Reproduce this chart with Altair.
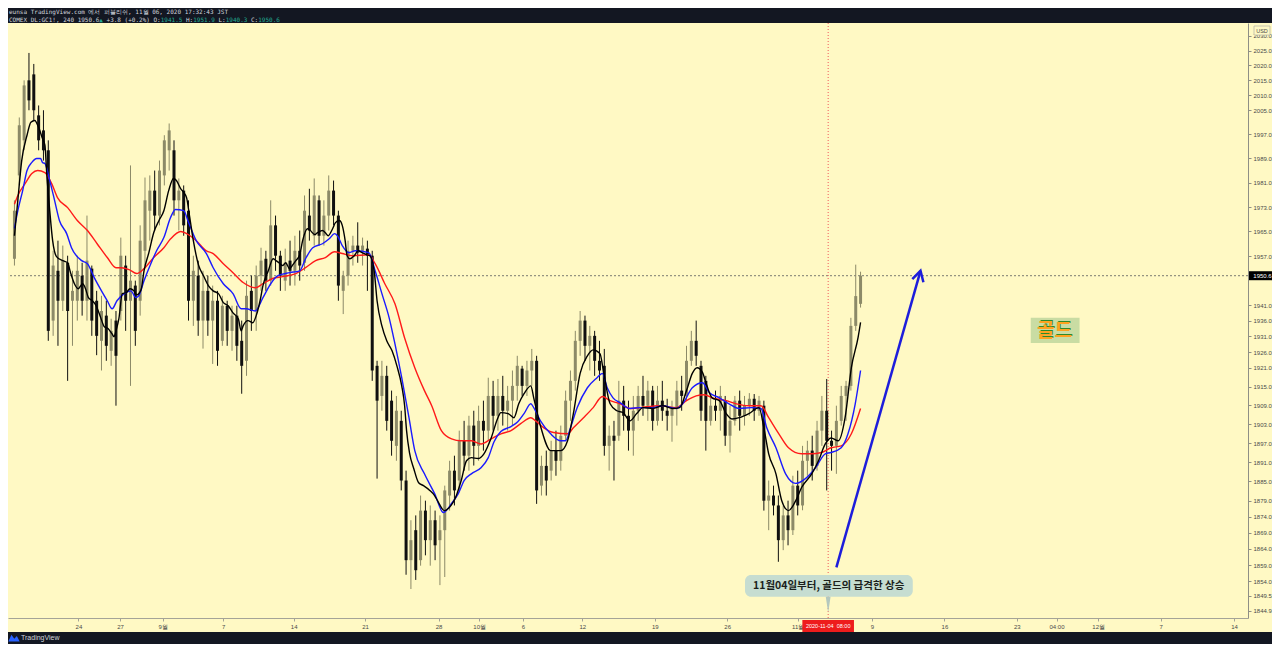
import json
import altair as alt
import pandas as pd

# ---------------- OHLC bars (8-hour steps) ----------------
open_ = [1956.1, 1983.4, 1995.0, 2015.0, 2017.0, 2003.3, 1998.3, 1991.7, 1936.1, 1952.2,
         1942.5, 1954.8, 1942.5, 1942.5, 1950.6, 1942.5, 1952.9, 1942.5, 1929.6, 1937.7,
         1926.4, 1936.1, 1939.2, 1953.9, 1942.5, 1947.4, 1942.5, 1958.7, 1971.8, 1978.4,
         1970.2, 1983.4, 1991.7, 1991.7, 1975.2, 1978.4, 1971.8, 1942.5, 1950.6, 1936.1,
         1945.7, 1936.1, 1942.5, 1929.6, 1940.9, 1932.8, 1937.7, 1929.6, 1923.2, 1945.7,
         1939.2, 1950.6, 1956.1, 1949.0, 1967.0, 1957.1, 1949.0, 1955.5, 1952.2, 1958.7,
         1954.8, 1970.2, 1963.6, 1975.2, 1963.6, 1970.2, 1978.4, 1970.2, 1945.7, 1950.6,
         1958.7, 1960.4, 1958.7, 1959.4, 1957.1, 1921.6, 1912.0, 1918.4, 1910.5, 1896.2,
         1904.1, 1885.3, 1860.5, 1869.8, 1860.5, 1875.9, 1866.7, 1872.9, 1866.7, 1869.8,
         1880.6, 1888.4, 1885.3, 1897.8, 1893.1, 1902.6, 1896.2, 1904.1, 1901.0, 1912.0,
         1905.7, 1912.0, 1907.3, 1910.5, 1915.2, 1920.7, 1915.2, 1920.1, 1923.2, 1883.7,
         1889.9, 1888.4, 1894.7, 1891.5, 1899.4, 1910.5, 1916.8, 1929.6, 1936.1, 1928.0,
         1931.2, 1923.2, 1921.6, 1896.2, 1899.4, 1899.4, 1910.5, 1905.7, 1901.0, 1907.3,
         1912.0, 1908.9, 1913.7, 1904.1, 1910.5, 1907.3, 1905.7, 1908.0, 1913.7, 1912.0,
         1923.2, 1929.6, 1921.6, 1916.8, 1904.1, 1908.9, 1907.3, 1910.5, 1899.4, 1904.1,
         1910.5, 1905.7, 1908.9, 1911.1, 1907.3, 1908.9, 1879.0, 1880.6, 1877.5, 1866.7,
         1874.4, 1869.8, 1883.7, 1877.5, 1891.5, 1894.7, 1889.9, 1901.0, 1907.3, 1897.8,
         1896.2, 1904.1, 1912.0, 1915.2, 1934.4, 1941.5]
high_ = [1975.2, 2002.6, 2015.0, 2024.2, 2020.5, 2006.6, 2005.0, 1995.0, 1958.7, 1962.0,
         1960.4, 1957.1, 1952.2, 1957.1, 1954.8, 1970.2, 1953.9, 1945.7, 1944.1, 1942.5,
         1936.7, 1939.2, 1963.0, 1957.1, 1986.7, 1949.0, 1967.0, 1982.7, 1983.4, 1985.0,
         1988.3, 1996.7, 2000.6, 1995.0, 1982.4, 1980.1, 1975.2, 1957.1, 1955.5, 1952.2,
         1950.6, 1947.4, 1945.7, 1944.1, 1942.5, 1940.9, 1940.9, 1936.1, 1949.0, 1950.6,
         1953.9, 1959.7, 1958.7, 1975.2, 1970.2, 1958.7, 1959.4, 1962.0, 1963.6, 1965.3,
         1976.8, 1979.0, 1982.4, 1976.8, 1975.2, 1983.4, 1981.7, 1971.8, 1952.2, 1962.0,
         1963.6, 1968.0, 1963.0, 1962.0, 1958.7, 1923.2, 1923.2, 1921.6, 1913.7, 1912.0,
         1907.3, 1888.4, 1872.9, 1874.4, 1880.6, 1879.0, 1877.5, 1875.9, 1874.4, 1883.7,
         1891.5, 1893.1, 1901.0, 1904.1, 1905.7, 1907.3, 1908.9, 1910.5, 1917.8, 1916.8,
         1917.4, 1918.4, 1915.2, 1920.1, 1924.8, 1921.6, 1923.2, 1927.0, 1924.8, 1893.1,
         1894.7, 1897.8, 1901.0, 1902.6, 1913.7, 1920.1, 1932.8, 1939.2, 1937.7, 1934.4,
         1932.8, 1929.6, 1927.0, 1902.6, 1904.1, 1916.8, 1915.2, 1910.5, 1912.0, 1915.2,
         1918.4, 1916.8, 1915.2, 1915.2, 1916.8, 1911.1, 1910.5, 1916.8, 1918.4, 1928.0,
         1932.8, 1936.1, 1923.2, 1918.4, 1912.0, 1913.7, 1915.2, 1912.0, 1908.9, 1912.0,
         1913.7, 1912.0, 1912.9, 1912.6, 1912.0, 1910.5, 1885.3, 1883.7, 1880.6, 1877.5,
         1879.0, 1886.8, 1888.4, 1896.2, 1897.8, 1899.4, 1904.1, 1912.0, 1917.4, 1901.0,
         1908.9, 1915.2, 1916.8, 1937.0, 1954.2, 1951.9]
low_ = [1953.9, 1980.1, 1991.7, 2005.0, 2001.6, 1991.7, 1988.3, 1929.6, 1931.2, 1928.0,
        1939.2, 1916.8, 1928.0, 1936.1, 1937.7, 1936.1, 1931.2, 1925.0, 1920.1, 1923.2,
        1921.6, 1908.9, 1936.1, 1932.8, 1915.2, 1928.0, 1937.7, 1953.9, 1962.0, 1965.3,
        1967.0, 1980.1, 1985.0, 1970.2, 1965.3, 1963.6, 1936.1, 1934.4, 1931.2, 1927.1,
        1931.2, 1922.2, 1921.6, 1928.0, 1928.0, 1926.4, 1923.2, 1912.7, 1918.4, 1932.8,
        1932.8, 1945.7, 1945.7, 1947.4, 1952.2, 1945.7, 1945.7, 1947.4, 1947.4, 1949.0,
        1952.2, 1962.0, 1960.4, 1960.4, 1960.4, 1965.3, 1967.0, 1942.5, 1938.2, 1947.4,
        1953.9, 1954.8, 1953.9, 1945.7, 1916.8, 1885.9, 1907.3, 1901.0, 1893.1, 1891.5,
        1882.2, 1856.0, 1851.6, 1854.4, 1858.8, 1862.0, 1858.8, 1860.5, 1852.8, 1855.3,
        1875.9, 1877.5, 1882.2, 1888.4, 1888.4, 1890.0, 1891.5, 1894.7, 1897.8, 1901.0,
        1901.0, 1902.6, 1901.0, 1902.6, 1910.5, 1912.0, 1912.0, 1915.2, 1878.0, 1880.6,
        1880.6, 1885.3, 1886.8, 1888.4, 1897.8, 1904.1, 1913.7, 1924.8, 1923.2, 1920.1,
        1918.4, 1916.8, 1893.1, 1888.4, 1885.3, 1897.8, 1901.0, 1894.7, 1893.1, 1904.1,
        1905.7, 1904.1, 1901.0, 1902.6, 1904.1, 1901.0, 1897.5, 1902.6, 1907.3, 1910.5,
        1921.6, 1921.6, 1904.1, 1894.7, 1902.6, 1904.1, 1901.0, 1896.2, 1894.1, 1902.6,
        1901.0, 1902.6, 1905.7, 1904.1, 1905.7, 1875.9, 1869.8, 1874.4, 1860.0, 1863.6,
        1865.1, 1868.3, 1874.4, 1876.0, 1886.8, 1885.3, 1888.4, 1896.2, 1882.2, 1888.4,
        1887.4, 1902.6, 1904.1, 1913.7, 1932.8, 1940.3]
close_ = [1971.8, 2000.0, 2013.3, 2008.3, 2005.0, 1995.0, 1991.7, 1932.8, 1953.9, 1942.5,
          1955.5, 1939.2, 1945.7, 1952.2, 1942.5, 1955.5, 1936.1, 1931.2, 1939.2, 1928.0,
          1932.8, 1924.8, 1957.1, 1942.5, 1949.0, 1932.8, 1962.0, 1975.2, 1978.4, 1970.2,
          1985.0, 1995.0, 1998.3, 1975.2, 1978.4, 1967.0, 1942.5, 1952.2, 1936.1, 1945.7,
          1936.1, 1942.5, 1926.4, 1940.9, 1932.8, 1937.7, 1928.0, 1921.6, 1944.1, 1939.2,
          1950.6, 1955.5, 1949.0, 1967.0, 1957.1, 1950.6, 1954.8, 1952.2, 1958.7, 1953.9,
          1971.8, 1965.3, 1976.8, 1963.6, 1970.2, 1978.4, 1970.2, 1947.4, 1950.6, 1958.7,
          1960.4, 1958.1, 1960.4, 1957.1, 1920.1, 1910.5, 1918.4, 1904.1, 1897.8, 1907.3,
          1885.3, 1860.5, 1866.7, 1857.4, 1875.9, 1866.7, 1872.9, 1865.1, 1869.8, 1882.2,
          1888.4, 1882.2, 1897.8, 1893.1, 1902.6, 1896.2, 1904.1, 1901.0, 1912.0, 1905.7,
          1912.0, 1907.3, 1910.5, 1915.2, 1921.6, 1915.2, 1920.1, 1923.2, 1882.2, 1889.9,
          1885.3, 1894.7, 1891.5, 1899.4, 1910.5, 1916.8, 1929.6, 1936.1, 1928.0, 1931.2,
          1923.2, 1920.1, 1896.2, 1899.4, 1897.8, 1910.5, 1905.7, 1901.0, 1907.3, 1912.0,
          1908.9, 1913.7, 1904.1, 1910.5, 1907.3, 1905.7, 1908.0, 1913.7, 1912.0, 1923.2,
          1929.6, 1924.8, 1907.3, 1904.1, 1908.9, 1907.3, 1912.0, 1899.4, 1904.1, 1910.5,
          1905.7, 1908.9, 1911.1, 1907.3, 1910.5, 1879.0, 1880.6, 1877.5, 1866.7, 1874.4,
          1869.8, 1883.7, 1877.5, 1891.5, 1894.7, 1889.9, 1901.0, 1907.3, 1897.8, 1896.2,
          1904.1, 1912.0, 1915.2, 1934.4, 1944.0, 1950.6]

# ---------------- moving averages (traced points: bar index, price) ----------------
fast_idx = [0, 0.7, 1.5, 2.6, 3.4, 4.2, 5.0, 5.8, 6.3, 6.7, 7.3, 7.9, 8.7, 10.0, 11.0, 11.6, 12.4, 13.2, 14.1, 14.7,
            15.3, 16.1, 16.9, 17.7, 18.6, 19.4, 20.2, 20.6, 21.0, 21.6, 22.3, 23.1, 23.9, 24.7, 25.3, 26.2, 26.8, 27.8, 28.8, 29.9,
            30.9, 31.9, 32.9, 33.5, 34.4, 35.0, 35.6, 36.2, 37.0, 38.1, 39.1, 40.1, 41.1, 42.2, 43.2, 44.2, 45.2, 46.3, 46.9, 47.3,
            48.3, 49.3, 50.0, 50.8, 51.4, 52.5, 53.5, 54.1, 54.7, 55.5, 56.1, 56.9, 57.6, 58.2, 59.0, 59.6, 60.6, 61.2, 62.1, 62.7,
            63.7, 64.3, 64.9, 65.8, 66.4, 67.2, 67.8, 68.4, 68.8, 69.4, 70.3, 71.1, 71.9, 72.9, 73.5, 74.4, 75.0, 76.0, 77.0, 78.1,
            79.1, 80.1, 80.7, 81.1, 81.7, 82.6, 83.6, 84.6, 85.9, 86.9, 87.5, 88.9, 89.9, 91.4, 92.4, 93.5, 94.5, 95.9, 97.1, 98.6,
            100.0, 100.6, 102.1, 103.3, 104.3, 105.4, 106.8, 107.4, 108.9, 110.9, 113.0, 114.4, 115.6, 117.0, 118.5, 119.7, 121.1, 121.8, 123.2, 124.6,
            125.9, 127.3, 128.7, 130.0, 132.0, 134.1, 136.1, 137.6, 139.0, 140.2, 141.2, 142.3, 143.1, 144.3, 145.8, 147.2, 148.4, 149.9, 151.9, 154.0,
            155.0, 156.0, 157.5, 158.7, 160.1, 161.6, 162.8, 164.9, 166.3, 167.7, 168.9, 170.4, 171.8, 173.1, 174.5, 175.0]
fast_val = [1963.6, 1975.2, 1988.3, 1996.7, 2001.0, 2001.6, 1999.3, 1995.6, 1993.4, 1983.4, 1971.8, 1962.0, 1956.8, 1955.5, 1954.8, 1951.6, 1948.0, 1946.4, 1948.0, 1946.4,
            1943.5, 1942.5, 1940.9, 1937.7, 1934.1, 1933.5, 1931.8, 1930.9, 1932.8, 1936.7, 1944.8, 1945.1, 1946.4, 1945.7, 1944.4, 1946.1, 1952.2, 1958.1, 1964.6, 1968.6,
            1971.8, 1978.4, 1982.4, 1981.7, 1979.0, 1977.8, 1976.1, 1970.2, 1962.0, 1953.9, 1950.6, 1947.4, 1945.7, 1944.8, 1941.9, 1940.9, 1938.6, 1936.7, 1932.8, 1934.4,
            1936.1, 1935.4, 1937.7, 1942.5, 1947.4, 1952.2, 1956.1, 1955.5, 1954.8, 1953.9, 1954.8, 1952.9, 1954.2, 1955.5, 1957.4, 1962.0, 1965.9, 1965.3, 1964.0, 1964.6,
            1965.3, 1964.6, 1963.6, 1965.9, 1967.9, 1968.6, 1967.0, 1962.0, 1957.1, 1956.1, 1957.1, 1958.7, 1958.1, 1957.4, 1957.1, 1952.2, 1942.5, 1934.4, 1929.6, 1926.4,
            1921.6, 1915.2, 1908.9, 1901.0, 1894.1, 1889.0, 1884.6, 1883.7, 1882.2, 1880.6, 1879.0, 1875.9, 1876.8, 1880.6, 1885.3, 1891.5, 1892.5, 1892.2, 1893.7, 1898.7,
            1905.1, 1906.7, 1906.4, 1905.1, 1909.5, 1912.7, 1915.2, 1911.4, 1901.9, 1894.7, 1894.7, 1897.8, 1906.4, 1919.2, 1924.8, 1926.7, 1925.5, 1920.1, 1909.5, 1907.3,
            1906.7, 1904.1, 1906.4, 1908.3, 1908.0, 1908.9, 1908.0, 1908.3, 1913.7, 1919.2, 1921.0, 1919.5, 1915.8, 1911.4, 1910.5, 1906.4, 1904.7, 1905.1, 1906.4, 1908.3,
            1901.9, 1893.7, 1887.4, 1879.0, 1875.9, 1879.0, 1883.1, 1887.4, 1891.5, 1896.8, 1898.7, 1897.8, 1905.1, 1921.0, 1930.8, 1935.5]

mid_idx = [0, 0.7, 1.7, 2.6, 3.6, 4.6, 5.4, 5.8, 6.3, 7.3, 8.3, 9.3, 10.8, 11.8, 13.9, 15.1, 16.5, 18.0, 19.2, 20.2,
           21.2, 22.7, 24.1, 25.1, 25.7, 26.8, 28.2, 29.4, 30.9, 32.3, 33.3, 35.0, 36.0, 37.6, 39.7, 41.1, 43.2, 45.2, 46.9, 47.9,
           49.8, 51.4, 53.0, 54.5, 56.9, 59.0, 60.2, 61.7, 63.7, 65.1, 66.2, 66.8, 67.8, 69.2, 70.5, 73.3, 74.6, 76.0, 77.5, 78.7,
           80.1, 81.6, 82.8, 84.8, 86.9, 88.7, 90.4, 91.8, 93.0, 94.5, 96.5, 98.0, 99.2, 100.6, 102.7, 104.1, 105.4, 106.8, 107.4, 108.8,
           110.9, 113.0, 114.0, 115.0, 116.4, 118.5, 120.5, 121.6, 122.6, 123.8, 125.3, 127.3, 129.4, 132.0, 134.1, 136.9, 138.2, 140.2, 142.3, 143.7,
           145.8, 147.8, 149.9, 152.5, 154.4, 155.6, 157.5, 159.5, 161.6, 163.6, 165.7, 167.7, 168.9, 171.0, 172.4, 173.9, 175.0]
mid_val = [1966.0, 1971.8, 1978.4, 1985.0, 1987.7, 1989.0, 1989.0, 1987.7, 1987.3, 1981.7, 1975.2, 1968.6, 1964.3, 1959.7, 1955.5, 1954.5, 1950.0, 1945.7, 1942.5, 1939.9,
           1942.5, 1944.8, 1945.7, 1943.5, 1944.1, 1949.0, 1954.5, 1958.7, 1963.0, 1969.6, 1972.2, 1971.8, 1968.0, 1962.0, 1957.8, 1953.2, 1948.0, 1944.8, 1939.9, 1939.9,
           1939.2, 1943.5, 1948.0, 1950.6, 1951.6, 1952.2, 1956.1, 1959.7, 1961.0, 1962.6, 1964.3, 1963.6, 1960.4, 1958.1, 1958.7, 1958.1, 1952.2, 1944.8, 1937.0, 1928.6,
           1917.8, 1905.1, 1894.7, 1887.4, 1881.2, 1875.3, 1878.1, 1881.2, 1885.3, 1887.4, 1889.3, 1892.5, 1897.5, 1900.7, 1902.3, 1903.8, 1906.4, 1909.5, 1908.3, 1904.1,
           1900.0, 1897.8, 1897.8, 1901.9, 1908.3, 1914.6, 1917.8, 1919.2, 1914.6, 1911.4, 1909.8, 1908.0, 1908.3, 1908.3, 1908.9, 1908.0, 1909.5, 1914.6, 1916.2, 1913.1,
           1911.4, 1909.5, 1908.0, 1908.3, 1908.0, 1901.9, 1895.6, 1887.4, 1884.4, 1885.9, 1889.3, 1893.7, 1894.1, 1895.6, 1900.0, 1909.5, 1920.1]

slow_idx = [0, 0.7, 2.2, 3.6, 4.8, 6.3, 7.7, 8.9, 11.0, 13.0, 15.1, 17.1, 19.2, 21.0, 22.1, 23.7, 25.3, 26.8, 28.8, 30.9,
            32.3, 34.4, 35.6, 37.6, 39.7, 41.1, 43.2, 45.2, 47.3, 49.8, 51.4, 53.4, 55.5, 58.2, 60.2, 62.3, 64.3, 66.2, 67.8, 69.9,
            73.3, 74.6, 76.6, 78.7, 80.7, 82.8, 84.8, 86.3, 88.3, 90.4, 92.4, 94.5, 96.5, 98.6, 100.6, 102.7, 104.7, 106.8, 107.8, 109.5,
            111.5, 114.4, 115.6, 117.7, 119.7, 121.6, 123.2, 125.3, 127.3, 129.4, 133.5, 136.9, 139.0, 141.0, 142.7, 144.3, 147.2, 149.3, 151.9, 154.4,
            156.0, 158.1, 160.1, 162.8, 164.9, 166.9, 168.9, 171.0, 173.1, 175.0]
slow_val = [1973.9, 1976.8, 1980.7, 1984.0, 1985.0, 1984.3, 1980.7, 1976.1, 1972.8, 1968.6, 1965.3, 1961.0, 1956.5, 1953.2, 1953.2, 1952.6, 1951.3, 1952.9, 1956.5, 1959.7,
            1962.6, 1965.0, 1964.3, 1962.0, 1958.7, 1957.8, 1954.5, 1951.6, 1948.4, 1946.7, 1948.0, 1949.7, 1950.3, 1951.3, 1953.2, 1955.5, 1956.5, 1958.4, 1957.8, 1957.1,
            1957.4, 1954.5, 1948.0, 1941.5, 1930.5, 1921.0, 1913.7, 1908.9, 1901.0, 1898.4, 1897.8, 1897.8, 1896.8, 1898.4, 1900.0, 1901.0, 1903.2, 1905.1, 1904.1, 1901.9,
            1900.4, 1900.0, 1901.9, 1905.1, 1908.3, 1911.8, 1910.5, 1909.5, 1908.0, 1908.3, 1908.9, 1908.3, 1910.5, 1912.0, 1912.4, 1911.4, 1910.5, 1909.5, 1908.9, 1908.9,
            1905.1, 1900.0, 1895.6, 1893.7, 1893.7, 1894.1, 1895.6, 1896.2, 1900.0, 1908.0]

# ---------------- axes ----------------
x_tick_pos = [13.23, 21.85, 30.67, 43.19, 57.76, 72.53, 87.71, 96.12, 105.15, 117.46,
              132.44, 147.42, 161.99, 177.37, 192.35, 207.33, 215.53, 224.15, 237.07, 252.25]
x_tick_lab = ["24", "27", "9월", "7", "14", "21", "28", "10월", "6", "12",
              "19", "26", "11월", "9", "16", "23", "04:00", "12월", "7", "14"]
y_tick_vals = [2030.0, 2025.0, 2020.0, 2015.0, 2010.0, 2005.0, 1997.0, 1989.0, 1981.0, 1973.0,
               1965.0, 1957.0, 1941.0, 1936.0, 1931.0, 1926.0, 1921.0, 1915.0, 1909.0, 1903.0,
               1897.0, 1891.0, 1885.0, 1879.0, 1874.0, 1869.0, 1864.0, 1859.0, 1854.0, 1849.5, 1844.9]

# ---------------- annotations ----------------
last_price = 1950.6
cross_idx = 168.3
cross_label = "2020-11-04\u00a0\u00a008:00"
arrow_idx = [170.0, 187.4]
arrow_val = [1858.3, 1952.2]
head_idx = [185.7, 187.4, 188.0]
head_val = [1949.5, 1952.2, 1948.5]
note_text = "11월04일부터, 골드의 급격한 상승"
note_x = [151.1, 185.8]
note_y = [1849.2, 1855.9]
note_pos = [168.4, 1852.4]
pointer_pos = [168.3, 1846.8]
tag_text = "골드"
tag_x = [210.2, 220.3]
tag_y = [1928.9, 1937.0]
tag_pos = [215.1, 1932.6]

header1 = "eunsa TradingView.com 에서 퍼블리쉬, 11월 06, 2020 17:32:43 JST"
header2 = [(0, "COMEX_DL:GC1!, 240 1950.6", "#d1d4dc"), (25, "▲", "#22ab94"),
           (27, "+3.8 (+0.2%) O:", "#d1d4dc"), (42, "1941.5", "#22ab94"),
           (49, "H:", "#d1d4dc"), (51, "1951.9", "#22ab94"),
           (58, "L:", "#d1d4dc"), (60, "1940.3", "#22ab94"),
           (67, "C:", "#d1d4dc"), (69, "1950.6", "#22ab94")]

DARK = "#131722"
PAPER = "#fff9c4"
UP = "#8c8a68"
DOWN = "#101010"
W, H = 1240, 595

xs = alt.Scale(domain=[-0.3, 254.1], nice=False, zero=False)
ys = alt.Scale(type="log", domain=[1842.7, 2034.3], nice=False)

label_expr = (json.dumps(x_tick_lab, ensure_ascii=False) + "[indexof(" +
              json.dumps(x_tick_pos) + ", datum.value)]")
xaxis = alt.Axis(values=x_tick_pos, labelExpr=label_expr, title=None, grid=False,
                 domainColor="#a5a497", tickColor="#a5a497", tickSize=3, labelFontSize=6,
                 labelColor="#4a4a4a", labelFont="Liberation Sans", labelPadding=2,
                 labelOverlap=False, labelFlush=False, labelAngle=0)
yaxis = alt.Axis(orient="right", values=y_tick_vals, format=".1f", title=None, grid=False,
                 domainColor="#8f8f86", tickColor="#8f8f86", tickSize=3, labelFontSize=6,
                 labelColor="#4a4a4a", labelFont="Liberation Sans", labelPadding=2,
                 labelOverlap=False, labelFlush=False)


def X(f):
    return alt.X(f, type="quantitative", scale=xs, axis=xaxis)


def Y(f):
    return alt.Y(f, type="quantitative", scale=ys, axis=yaxis)


def one():
    return pd.DataFrame({"k": [0]})


bars = pd.DataFrame({"i": list(range(len(close_))), "o": open_, "h": high_, "l": low_, "c": close_})

layers = []

# dark frame pieces
layers.append(alt.Chart(one()).mark_rect(color=DARK).encode(
    x=alt.value(0), x2=alt.value(1264), y=alt.value(-15), y2=alt.value(0)))
layers.append(alt.Chart(one()).mark_rect(color=DARK).encode(
    x=alt.value(0), x2=alt.value(1264), y=alt.value(609), y2=alt.value(621)))

# last price dotted line
layers.append(alt.Chart(pd.DataFrame({"p": [last_price]})).mark_rule(
    color="#7a7a70", strokeDash=[2, 2], strokeWidth=1).encode(y=Y("p")))
# crosshair
layers.append(alt.Chart(pd.DataFrame({"x": [cross_idx]})).mark_rule(
    color="#f0595c", strokeDash=[1, 2], strokeWidth=1).encode(x=X("x")))

# candles
layers.append(alt.Chart(bars).transform_calculate(
    col=f"datum.c >= datum.o ? '{UP}' : '{DOWN}'").mark_rule(strokeWidth=1).encode(
    x=X("i"), y=Y("l"), y2=alt.Y2("h"), color=alt.Color("col:N", scale=None)))
layers.append(alt.Chart(bars).transform_calculate(
    col=f"datum.c >= datum.o ? '{UP}' : '{DOWN}'").mark_bar(size=3).encode(
    x=X("i"), y=Y("o"), y2=alt.Y2("c"), color=alt.Color("col:N", scale=None)))

# moving averages
for idx, val, colr in [(slow_idx, slow_val, "#ff1a1a"), (mid_idx, mid_val, "#1a1aff"),
                       (fast_idx, fast_val, "#000000")]:
    layers.append(alt.Chart(pd.DataFrame({"i": idx, "v": val})).mark_line(
        color=colr, strokeWidth=1.4, interpolate="monotone").encode(x=X("i"), y=Y("v")))

# arrow
layers.append(alt.Chart(pd.DataFrame({"i": arrow_idx, "v": arrow_val, "k": [0, 1]})).mark_line(
    color="#1d1ddb", strokeWidth=2.5).encode(x=X("i"), y=Y("v"), order="k:Q"))
layers.append(alt.Chart(pd.DataFrame({"i": head_idx, "v": head_val, "k": [0, 1, 2]})).mark_line(
    color="#1d1ddb", strokeWidth=2.5, strokeJoin="miter").encode(x=X("i"), y=Y("v"), order="k:Q"))

# callout
layers.append(alt.Chart(pd.DataFrame({"x0": [note_x[0]], "x1": [note_x[1]], "y0": [note_y[0]], "y1": [note_y[1]]}))
              .mark_rect(color="#c6ddd1", cornerRadius=6).encode(
    x=X("x0"), x2=alt.X2("x1"), y=Y("y0"), y2=alt.Y2("y1")))
layers.append(alt.Chart(pd.DataFrame({"x": [pointer_pos[0]], "y": [pointer_pos[1]]})).mark_point(
    shape="M -0.3 -1 L 0.3 -1 L 0 1 Z", size=256, filled=True, opacity=1, color="#b4c8be").encode(
    x=X("x"), y=Y("y")))
layers.append(alt.Chart(pd.DataFrame({"x": [note_pos[0]], "y": [note_pos[1]], "t": [note_text]})).mark_text(
    font="Noto Sans CJK KR", fontSize=10.5, fontWeight="bold", color="#1b1f1c",
    align="center", baseline="middle").encode(x=X("x"), y=Y("y"), text="t:N"))

# tag
layers.append(alt.Chart(pd.DataFrame({"x0": [tag_x[0]], "x1": [tag_x[1]], "y0": [tag_y[0]], "y1": [tag_y[1]]}))
              .mark_rect(color="#c9dca3").encode(
    x=X("x0"), x2=alt.X2("x1"), y=Y("y0"), y2=alt.Y2("y1")))
layers.append(alt.Chart(pd.DataFrame({"x": [tag_pos[0]], "y": [tag_pos[1]], "t": [tag_text]})).mark_text(
    font="Noto Sans CJK KR", fontSize=19, fontWeight="bold", color="#2f8a2a", dx=1, dy=-1,
    align="center", baseline="middle").encode(x=X("x"), y=Y("y"), text="t:N"))
layers.append(alt.Chart(pd.DataFrame({"x": [tag_pos[0]], "y": [tag_pos[1]], "t": [tag_text]})).mark_text(
    font="Noto Sans CJK KR", fontSize=19, fontWeight="bold", color="#ffa21f",
    align="center", baseline="middle").encode(x=X("x"), y=Y("y"), text="t:N"))

# price label on the right axis
layers.append(alt.Chart(pd.DataFrame({"p": [last_price]})).mark_point(
    shape="M -1.5 -0.5 L 1.5 -0.5 L 1.5 0.5 L -1.5 0.5 Z", size=324, filled=True, opacity=1,
    color="#000000").encode(x=alt.value(1254.5), y=Y("p")))
layers.append(alt.Chart(pd.DataFrame({"p": [last_price], "t": ["1950.6"]})).mark_text(
    font="Liberation Sans", fontSize=6, color="#ffffff", align="center", baseline="middle").encode(
    x=alt.value(1254.5), y=Y("p"), text="t:N"))

# USD box
layers.append(alt.Chart(one()).mark_rect(fill=PAPER, stroke="#b9b8a8", strokeWidth=0.8).encode(
    x=alt.value(1246), x2=alt.value(1262), y=alt.value(3), y2=alt.value(12)))
layers.append(alt.Chart(pd.DataFrame({"t": ["USD"]})).mark_text(
    font="Liberation Sans", fontSize=5.5, color="#4a4a4a", align="center", baseline="middle").encode(
    x=alt.value(1254), y=alt.value(7.5), text="t:N"))

# crosshair date label
layers.append(alt.Chart(pd.DataFrame({"x": [cross_idx]})).mark_point(
    shape="M -4.3 -1 L 4.3 -1 L 4.3 1 L -4.3 1 Z", size=144, filled=True, opacity=1,
    color="#ee1c1c").encode(x=X("x"), y=alt.value(603)))
layers.append(alt.Chart(pd.DataFrame({"x": [cross_idx], "t": [cross_label]})).mark_text(
    font="Liberation Sans", fontSize=5.5, color="#ffffff", align="center", baseline="middle").encode(
    x=X("x"), y=alt.value(603), text="t:N"))

# header
layers.append(alt.Chart(pd.DataFrame({"t": [header1]})).mark_text(
    font="DejaVu Sans Mono", fontSize=6, color="#d1d4dc", align="left", baseline="middle").encode(
    x=alt.value(1), y=alt.value(-11), text="t:N"))
CW = 0.602 * 6
for col, txt, colr in header2:
    layers.append(alt.Chart(pd.DataFrame({"t": [txt]})).mark_text(
        font="DejaVu Sans Mono", fontSize=6, color=colr, align="left", baseline="middle").encode(
        x=alt.value(1 + col * CW), y=alt.value(-3.5), text="t:N"))

# footer logo
layers.append(alt.Chart(one()).mark_point(
    shape="M -1 0.6 L -0.45 -0.55 L 0.05 0.15 L 0.5 -0.35 L 1 0.6 Z", size=130, filled=True,
    opacity=1, color="#2962ff").encode(x=alt.value(6), y=alt.value(615)))
layers.append(alt.Chart(pd.DataFrame({"t": ["TradingView"]})).mark_text(
    font="Liberation Sans", fontSize=7, color="#d1d4dc", align="left", baseline="middle").encode(
    x=alt.value(13), y=alt.value(615), text="t:N"))

chart = alt.layer(*layers).properties(
    width=W, height=H, background=PAPER,
    padding={"left": 0, "top": 15, "right": 24, "bottom": 26},
    autosize=alt.AutoSizeParams(type="none"),
).configure_view(strokeWidth=0)

chart.save("out.html", embed_options={"renderer": "svg", "actions": False})
